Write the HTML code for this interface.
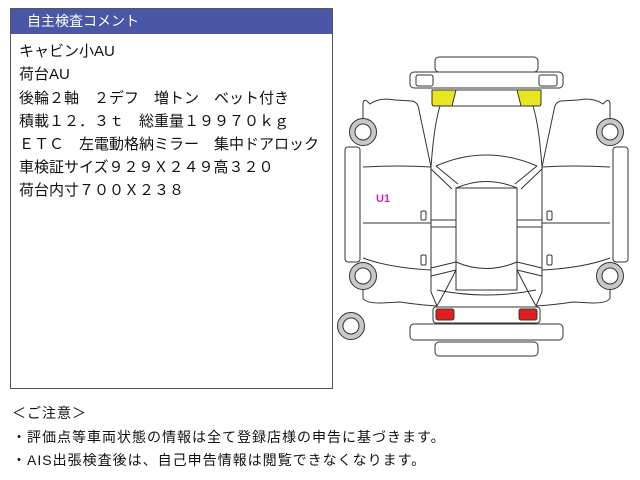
<!DOCTYPE html>
<html><head><meta charset="utf-8"><style>
body{margin:0;width:640px;height:480px;background:#fff;position:relative;overflow:hidden;font-family:"Liberation Sans","Noto Sans CJK JP",sans-serif;color:#111}
#box{position:absolute;left:10px;top:8px;width:321px;height:379px;border:1px solid #555;}
#hd{height:25px;background:#4a56a6;color:#fff;font-size:14px;line-height:25px;padding-left:16px}
.l{position:absolute;left:8px;font-size:15px;white-space:pre}
.b{position:absolute;left:12px;font-size:14px;white-space:pre;letter-spacing:1px}
</style></head><body>
<div id="box"><div id="hd">自主検査コメント</div>
<div class="l" style="top:31px">キャビン小AU</div>
<div class="l" style="top:54px">荷台AU</div>
<div class="l" style="top:78px">後輪２軸　２デフ　増トン　ベット付き</div>
<div class="l" style="top:101px">積載１２．３ｔ　総重量１９９７０ｋｇ</div>
<div class="l" style="top:124px">ＥＴＣ　左電動格納ミラー　集中ドアロック</div>
<div class="l" style="top:147px">車検証サイズ９２９Ｘ２４９高３２０</div>
<div class="l" style="top:170px">荷台内寸７００Ｘ２３８</div>
</div>
<div class="b" style="top:403px">＜ご注意＞</div>
<div class="b" style="top:427px">・評価点等車両状態の情報は全て登録店様の申告に基づきます。</div>
<div class="b" style="top:450px">・AIS出張検査後は、自己申告情報は閲覧できなくなります。</div>
<svg width="640" height="480" style="position:absolute;left:0;top:0" fill="none" stroke="#333" stroke-width="1">
<rect x="435" y="57" width="103" height="15" rx="4" fill="#fff"/>
<rect x="410" y="72" width="153" height="16" rx="4" fill="#fff"/>
<rect x="416" y="75" width="17" height="11" rx="2"/>
<rect x="539" y="75" width="18" height="11" rx="2"/>
<rect x="432" y="90" width="109" height="16" rx="3"/>
<path d="M432,90 L456,90 L452,106 L434,106 Q432,106 432,103 Z" fill="#e8e622"/>
<path d="M541,90 L517,90 L521,106 L539,106 Q541,106 541,103 Z" fill="#e8e622"/>
<path d="M436,166 Q486,144 537,166"/>
<path d="M456,188 Q486,175 517,188"/>
<rect x="456" y="188" width="61" height="102"/>
<path d="M456,262 Q486,275 517,262"/>
<path d="M437,290 Q486,300 536,290"/>
<rect x="433" y="307" width="107" height="16" rx="3"/>
<rect x="436" y="309" width="18" height="11" rx="2" fill="#e02020"/>
<rect x="519" y="309" width="18" height="11" rx="2" fill="#e02020"/>
<rect x="410" y="324" width="153" height="16" rx="4" fill="#fff"/>
<rect x="435" y="342" width="103" height="14" rx="4" fill="#fff"/>
<g id="h">
<path d="M363,124 L363,103 Q364,99 367,101 L370,104 Q380,97 395,100 L412,101 Q418,102 419,110 L431,167"/>
<path d="M440,106 Q434,125 431,167"/>
<path d="M363,167 Q400,165 431,167"/>
<path d="M363,223 L431,223"/>
<path d="M363,258 Q390,268 431,270"/>
<path d="M363,290 L363,298 Q365,303 380,303 L400,302 Q420,305 437,306"/>
<path d="M431,167 L431,292 M456,188 L456,290"/>
<path d="M431,169 L452,189 M436,166 L458,184"/>
<path d="M431,220 L456,220 M431,227 L456,227"/>
<path d="M431,268 L456,262 M431,276 L456,270"/>
<path d="M431,292 L437,306 M456,270 Q446,290 437,306"/>
<rect x="421" y="211" width="5" height="9" rx="1.5"/>
<rect x="421" y="255" width="5" height="10" rx="1.5"/>
<rect x="345" y="147" width="15" height="115" rx="3" fill="#fff"/>
<circle cx="363" cy="132" r="13.5" fill="#c8c8c8"/><circle cx="363" cy="132" r="8" fill="#fff"/>
<circle cx="363" cy="276" r="13.5" fill="#c8c8c8"/><circle cx="363" cy="276" r="8" fill="#fff"/>
</g>
<use href="#h" transform="translate(973,0) scale(-1,1)"/>
<circle cx="351" cy="326" r="13.5" fill="#c8c8c8"/><circle cx="351" cy="326" r="8" fill="#fff"/>
<text x="376" y="202" fill="#d020c0" stroke="none" font-size="11" font-weight="bold" font-family="Liberation Sans,sans-serif">U1</text>
</svg>
</body></html>
